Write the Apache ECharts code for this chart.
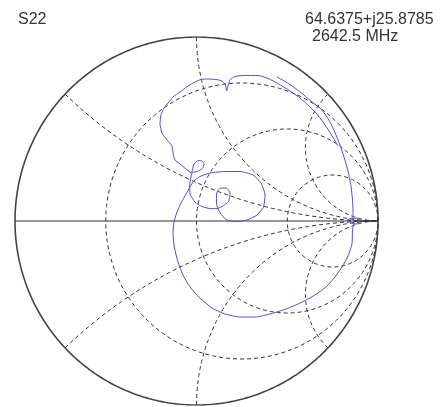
<!DOCTYPE html>
<html>
<head>
<meta charset="utf-8">
<script src="https://cdn.jsdelivr.net/npm/echarts@6/dist/echarts.min.js"></script>
<style>
html,body{margin:0;padding:0;background:#fff;}
#chart{width:441px;height:407px;}
</style>
</head>
<body>
<div id="chart"></div>
<script>
// Chart title and marker readout
const traceName = 'S22';
const markerImpedance = '64.6375+j25.8785';
const markerFrequency = '2642.5 MHz';

// Smith grid definition (normalized resistance circles and reactance arcs)
const resistanceCircles = [1/3, 1, 3];
const reactanceArcs = [0.4, 1, 2.5];

// S22 trace, reflection coefficient (real / imaginary)
const traceRe = [0.4435,0.4931,0.5427,0.5923,0.6364,0.6804,0.7190,0.7466,0.7686,0.7906,0.8127,0.8347,0.8512,0.8595,0.8623,0.8623,
  0.8843,0.9008,0.8843,0.8512,0.8347,0.8567,0.8678,0.8595,
  0.8567,0.8347,0.8017,0.7631,0.7190,0.6694,0.6143,0.5482,0.4766,0.4050,0.3223,0.2397,0.1570,0.0854,0.0193,-0.0358,-0.0744,-0.1019,-0.1212,-0.1295,-0.1240,-0.1074,-0.0854,-0.0579,-0.0358,
  -0.0138,0.0193,0.0744,0.1625,0.2397,0.3113,0.3554,0.3774,0.3691,0.3333,0.2782,0.2121,0.1680,0.1405,0.1212,
  0.1102,0.1102,0.1267,0.1625,0.1846,0.1763,0.1405,0.1129,0.0744,0.0303,-0.0083,-0.0331,-0.0386,-0.0331,-0.0248,
  -0.0165,0.0028,0.0275,0.0413,0.0331,0.0028,-0.0303,
  -0.0579,-0.0909,-0.1185,-0.1295,-0.1350,-0.1625,-0.1901,-0.2011,-0.1956,-0.1791,-0.1570,-0.1295,-0.0909,-0.0468,-0.0083,0.0248,0.0634,0.1074,0.1405,
  0.1598,0.1653,0.1736,0.1846,0.2121,0.2672,0.3388,0.3939,0.4490,0.5152,0.5702,0.6143,0.6584,0.6970,0.7300,0.7576,0.7796];
const traceIm = [0.7826,0.7554,0.7228,0.6848,0.6467,0.6141,0.5652,0.5163,0.4674,0.4130,0.3478,0.2717,0.1902,0.1141,0.0489,0.0109,
  0.0163,0,-0.0163,-0.0109,0.0054,0.0163,-0.0054,-0.0489,
  -0.125,-0.1902,-0.25,-0.3043,-0.3533,-0.3913,-0.4239,-0.4565,-0.4837,-0.5054,-0.5217,-0.5217,-0.5054,-0.4728,-0.4185,-0.3587,-0.2935,-0.2228,-0.1467,-0.0707,-0.0054,0.0489,0.0978,0.1467,0.1848,
  0.2174,0.2418,0.2609,0.2690,0.2690,0.25,0.2065,0.1413,0.0761,0.0326,0.0054,-0.0027,0.0054,0.0299,0.0598,
  0.0978,0.1467,0.1766,0.1793,0.1522,0.1060,0.0788,0.0679,0.0679,0.0788,0.1033,0.1413,0.1848,0.2283,0.2663,
  0.3043,0.3261,0.3288,0.3098,0.2853,0.2690,0.2636,
  0.2826,0.3098,0.3315,0.3696,0.4076,0.4402,0.4783,0.5272,0.5761,0.6141,0.6413,0.6739,0.7011,0.7337,0.7554,0.7690,0.7717,0.7690,0.7609,
  0.7391,0.7065,0.7337,0.7663,0.7853,0.7908,0.7908,0.7745,0.7473,0.7065,0.6685,0.6304,0.5870,0.5380,0.4891,0.4457,0.4076];

// ---- build grid curves in the reflection plane ----
function zToGamma(r, x) {
  const d = (r + 1) * (r + 1) + x * x;
  return [(r * r + x * x - 1) / d, (2 * x) / d];
}
function resistanceCircle(r) {
  const pts = [];
  const c = r / (1 + r), rad = 1 / (1 + r);
  for (let a = 0; a <= 360; a += 2) {
    const t = a * Math.PI / 180;
    pts.push([c + rad * Math.cos(t), rad * Math.sin(t)]);
  }
  return pts;
}
function reactanceArc(x) {
  const pts = [];
  const n = 200;
  for (let i = 0; i < n; i++) {
    const t = (i / n) * (Math.PI / 2);
    pts.push(zToGamma(Math.tan(t), x));
  }
  pts.push([1, 0]);
  return pts;
}
function unitCircle() {
  const pts = [];
  for (let a = 0; a <= 360; a += 1) {
    const t = a * Math.PI / 180;
    pts.push([Math.cos(t), Math.sin(t)]);
  }
  return pts;
}

const gridStyle = { color: '#333', width: 1, type: [4, 3] };
const series = [];
resistanceCircles.forEach(r => {
  series.push({ type: 'line', data: resistanceCircle(r), showSymbol: false, silent: true,
    lineStyle: gridStyle, z: 1 });
});
reactanceArcs.forEach(x => {
  [x, -x].forEach(v => {
    series.push({ type: 'line', data: reactanceArc(v), showSymbol: false, silent: true,
      lineStyle: gridStyle, z: 1 });
  });
});
series.push({ type: 'line', data: [[-1, 0], [1, 0]], showSymbol: false, silent: true,
  lineStyle: { color: '#333', width: 1 }, z: 2 });
series.push({ type: 'line', data: unitCircle(), showSymbol: false, silent: true,
  lineStyle: { color: '#444', width: 1.6 }, z: 2 });
series.push({ type: 'line', name: traceName, data: traceRe.map((v, i) => [v, traceIm[i]]),
  showSymbol: false, smooth: 0.2, lineStyle: { color: '#4f52d4', width: 1 }, z: 5 });

const chart = echarts.init(document.getElementById('chart'), null, { renderer: 'canvas' });
chart.setOption({
  animation: false,
  backgroundColor: '#ffffff',
  grid: { left: 15, top: 37, width: 363, height: 368 },
  xAxis: { type: 'value', min: -1, max: 1, show: false },
  yAxis: { type: 'value', min: -1, max: 1, show: false },
  series: series,
  graphic: [
    { type: 'text', left: 18, top: 12, style: { text: traceName, fill: '#333',
      font: '16px "Liberation Sans", Arial, sans-serif' } },
    { type: 'text', left: 305, top: 12, style: { text: markerImpedance, fill: '#333',
      font: '16px "Liberation Sans", Arial, sans-serif' } },
    { type: 'text', left: 312, top: 29, style: { text: markerFrequency, fill: '#333',
      font: '16px "Liberation Sans", Arial, sans-serif' } }
  ]
});
</script>
</body>
</html>
